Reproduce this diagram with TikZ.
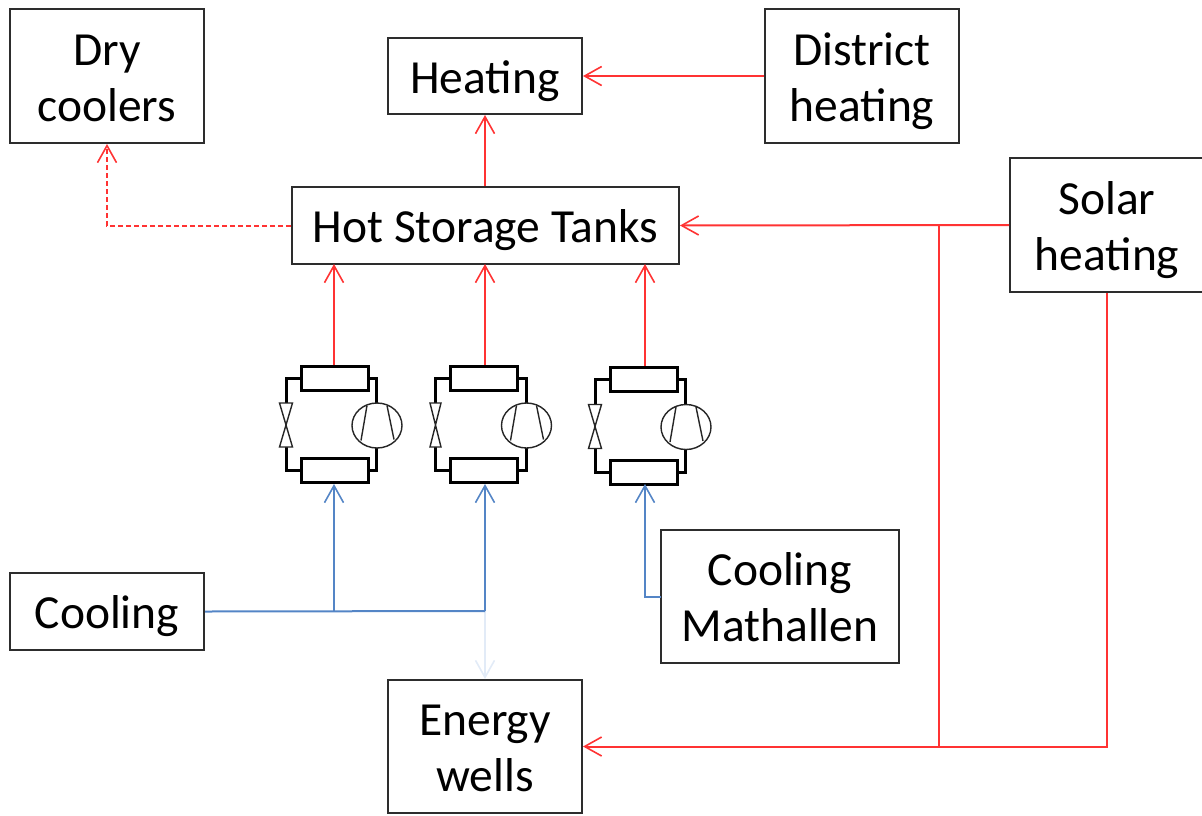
\documentclass[tikz,border=0pt]{standalone}
\usepackage{fontspec}
\setmainfont{Carlito}
\usetikzlibrary{arrows.meta,shapes.geometric}
\definecolor{hotred}{RGB}{255,51,51}
\definecolor{coldblue}{RGB}{84,133,198}
\definecolor{paleblue}{RGB}{226,235,247}
\definecolor{edge}{RGB}{45,45,45}
\newcommand{\linetop}{\rule{0pt}{44.5pt}}
\newcommand{\linebot}{\rule[-10pt]{0pt}{10pt}}
\tikzset{
  x=1pt,y=-1pt,
  lbl/.style={draw=edge,line width=2pt,fill=white,align=center,inner sep=0pt,
    font=\fontsize{47.5}{56}\selectfont,text=black},
  hot/.style={draw=hotred,line width=2pt,-{Straight Barb[length=17pt,width=19pt,line width=1.6pt]}},
  hotline/.style={draw=hotred,line width=2pt},
  cold/.style={draw=coldblue,line width=2pt,-{Straight Barb[length=17pt,width=19pt,line width=1.6pt]}},
  coldline/.style={draw=coldblue,line width=2pt},
  pale/.style={draw=paleblue,line width=2pt,-{Straight Barb[length=17pt,width=19pt,line width=1.6pt]}},
  exch/.style={draw=black,line width=3pt,fill=white,minimum width=67pt,minimum height=24pt,inner sep=0pt},
  pipe/.style={draw=black,line width=3pt},
  thinpart/.style={draw=black!85,line width=1.4pt},
  comp/.style={thinpart,fill=white,ellipse,minimum width=50pt,minimum height=45pt,inner sep=0pt},
  pics/heatpump/.style={code={
    \node[exch] (-top) at (0,-49) {};
    \node[exch] (-bot) at (0,43.5) {};
    \draw[pipe] (-top.west) -- (-48.5,-49) -- (-48.5,-24);
    \draw[pipe] (-bot.west) -- (-48.5,43.5) -- (-48.5,20);
    \draw[thinpart,fill=white] (-48.5,-24) ++(-#1,0) -- ++(2*#1,0) -- ++(-2*#1,44) -- ++(2*#1,0) -- cycle;
    \draw[pipe] (-top.east) -- (42,-49) -- (42,-22);
    \draw[pipe] (-bot.east) -- (42,43.5) -- (42,20);
    \node[comp] (-comp) at (42.5,-1.5) {};
    \draw[thinpart] (32.5,-21.5) -- (26.5,13.5);
    \draw[thinpart] (52.5,-21.5) -- (59.5,12.5);
  }}
}
\begin{document}
\begin{tikzpicture}
\useasboundingbox (0,0) rectangle (1202,815);
\clip (0,0) rectangle (1202,815);
\node[lbl,minimum width=194pt,minimum height=134pt] (dry) at (107,76) {\linetop Dry\\\linebot coolers};
\node[lbl,minimum width=194pt,minimum height=76pt] (heating) at (485,76) {\linetop\linebot Heating};
\node[lbl,minimum width=194pt,minimum height=134pt] (district) at (862,76) {\linetop District\\\linebot heating};
\node[lbl,minimum width=387pt,minimum height=77pt] (tanks) at (485.5,225.5) {\linetop\linebot Hot Storage Tanks};
\node[lbl,minimum width=194pt,minimum height=134pt] (solar) at (1107,225) {\linetop Solar\\\linebot heating};
\node[lbl,minimum width=194pt,minimum height=77pt] (cooling) at (107,611.5) {\linetop\linebot Cooling};
\node[lbl,minimum width=238pt,minimum height=133pt] (math) at (780,596.5) {\linetop Cooling\\\linebot Mathallen};
\node[lbl,minimum width=194pt,minimum height=133pt] (wells) at (485,746.5) {\linetop Energy\\\linebot wells};

\pic (hpa) at (334.5,427) {heatpump=6.5};
\pic (hpb) at (484,427) {heatpump=5.5};
\pic (hpc) at (643.5,428.5) {heatpump=6.5};

% red connectors
\draw[hot] (tanks.north -| heating) -- (heating.south);
\draw[hot] (district.west |- heating) -- (heating.east);
\draw[hot,dash pattern=on 5pt off 3pt] (tanks.west) -| (dry.south);
\draw[hot] (solar.west) -- (tanks.east);
\coordinate (branchtop) at (939,225);
\coordinate (branchbot) at (939,747);
\draw[hotline] (branchtop) -- (branchbot);
\draw[hot] (solar.south) |- (wells.east);
\coordinate (tanka) at (334,264);
\coordinate (tankb) at (485,264);
\coordinate (tankc) at (645,264);
\draw[hot] (tanka |- hpa-top.north) -- (tanka);
\draw[hot] (tankb |- hpb-top.north) -- (tankb);
\draw[hot] (tankc |- hpc-top.north) -- (tankc);

% blue connectors
\coordinate (junctionb) at (485,611);
\coordinate (junctiona) at (334,611);
\draw[pale] (junctionb) -- (wells.north);
\draw[coldline] (cooling.east) -- (junctionb);
\draw[cold] (junctiona) -- (junctiona |- hpa-bot.south);
\draw[cold] (junctionb) -- (junctionb |- hpb-bot.south);
\coordinate (mathjoin) at (661,597);
\draw[cold] (mathjoin) -| (645,484);
\end{tikzpicture}
\end{document}
